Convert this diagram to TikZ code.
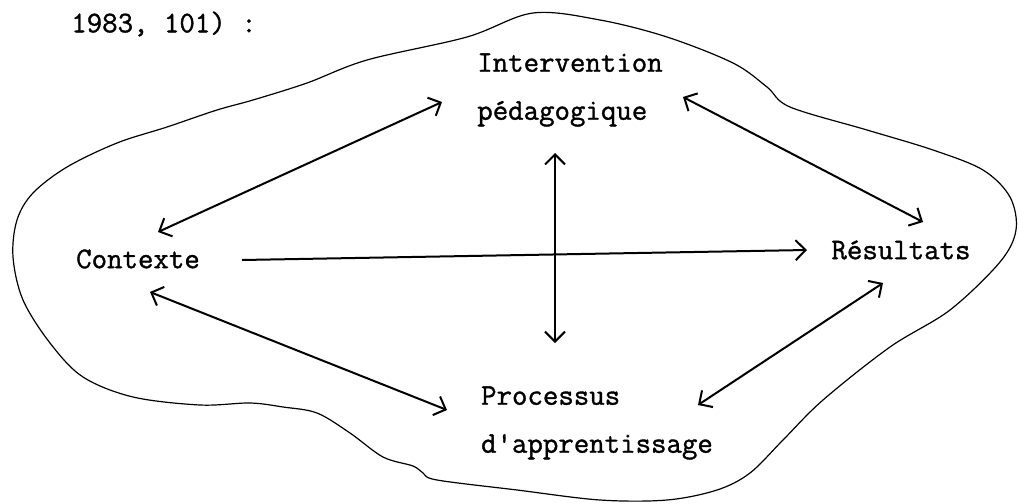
\documentclass[tikz,border=0pt]{standalone}
\usepackage{fontspec}
\setmonofont{Latin Modern Mono}[FakeBold=1.2]
\usepackage{tikz}
\usetikzlibrary{positioning, arrows.meta}

\begin{document}
\begin{tikzpicture}[
    x=0.5pt, y=-0.5pt,
    >={Straight Barb[length=5pt,width=10pt]},
    termstyle/.style={inner sep=0pt, align=left,
        font=\ttfamily\fontsize{15}{24}\selectfont},
    linkstyle/.style={line width=1pt},
    blobstyle/.style={line width=0.6pt}
]
\useasboundingbox (0,0) rectangle (1019,504);

\node[termstyle] (src) at (164,24) {1983, 101) :};

\node[termstyle] (int) at (570,90) {Intervention\\p\'edagogique};
\node[termstyle] (ctx) at (138,259) {Contexte};
\node[termstyle] (res) at (901,250) {R\'esultats};
\node[termstyle] (proc) at (597,423) {Processus\\d\textquotesingle apprentissage};

% outline round the model
\draw[blobstyle] plot[smooth cycle, tension=0.55] coordinates {
    (253,100) (307,83) (367,60) (467,37) (533,13) (600,20) (667,37)
    (733,63) (767,87) (790,107) (867,130) (933,150) (983,170)
    (1010,197) (1016,230) (1000,262) (950,310) (890,347) (823,400)
    (783,440) (750,473) (717,490) (667,500) (600,500) (517,490)
    (437,480) (423,473) (413,466) (383,457) (350,433) (317,413)
    (283,407) (250,403) (200,405) (133,397) (83,377) (50,343)
    (23,300) (13,257) (17,220) (33,193) (67,167) (117,143)
    (167,127) (217,110)};

\draw[linkstyle, <->] ([shift={(20,-27)}]ctx.center) -- ([shift={(-128,12)}]int.center);
\draw[linkstyle, <->] ([shift={(113,7)}]int.center) -- ([shift={(22,-28)}]res.center);
\draw[linkstyle, ->] ([shift={(104,1)}]ctx.center) -- ([shift={(-94,0)}]res.center);
\draw[linkstyle, <->] ([shift={(-15,63)}]int.center) -- ([shift={(-42,-80)}]proc.center);
\draw[linkstyle, <->] ([shift={(12,33)}]ctx.center) -- ([shift={(-150,-13)}]proc.center);
\draw[linkstyle, <->] ([shift={(-18,33)}]res.center) -- ([shift={(101,-18)}]proc.center);

\end{tikzpicture}
\end{document}
